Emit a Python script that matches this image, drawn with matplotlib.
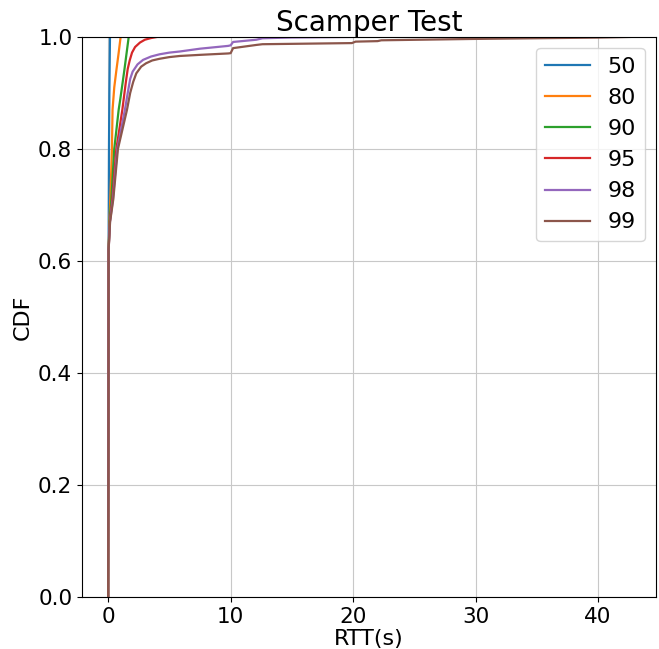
import numpy as np
import matplotlib.pyplot as plt

# percentile cut-offs used for each RTT subset
labels = ["50", "80", "90", "95", "98", "99"]

# RTT (s) and cumulative fraction for each subset
rtt_50 = [0.0, 0.02, 0.04, 0.07, 0.10, 0.15]
cdf_50 = [0.0, 0.30, 0.62, 0.80, 0.90, 1.0]

rtt_80 = [0.0, 0.02, 0.04, 0.10, 0.18, 0.31, 0.36, 0.50, 0.67, 0.85, 1.02]
cdf_80 = [0.0, 0.30, 0.62, 0.67, 0.71, 0.80, 0.87, 0.91, 0.94, 0.97, 1.0]

rtt_90 = [0.0, 0.02, 0.04, 0.12, 0.26, 0.50, 0.86, 1.00, 1.32, 1.50, 1.68]
cdf_90 = [0.0, 0.30, 0.62, 0.67, 0.71, 0.80, 0.87, 0.89, 0.94, 0.97, 1.0]

rtt_95 = [0.0, 0.02, 0.04, 0.14, 0.34, 0.67, 1.16, 1.45, 1.60, 1.76, 1.95,
          2.20, 2.60, 3.00, 3.50, 4.00]
cdf_95 = [0.0, 0.30, 0.62, 0.67, 0.71, 0.80, 0.87, 0.92, 0.943, 0.958, 0.972,
          0.982, 0.990, 0.995, 0.998, 1.0]

rtt_98 = [0.0, 0.02, 0.04, 0.15, 0.39, 0.75, 1.37, 1.60, 1.80, 2.00, 2.40,
          2.85, 3.50, 4.20, 5.00, 5.85, 7.50, 9.80, 10.0, 10.2, 12.1, 12.6,
          15.0, 20.0]
cdf_98 = [0.0, 0.30, 0.62, 0.67, 0.71, 0.80, 0.87, 0.90, 0.925, 0.938, 0.951,
          0.959, 0.965, 0.969, 0.972, 0.974, 0.979, 0.984, 0.985, 0.991, 0.995,
          0.9976, 0.999, 1.0]

rtt_99 = [0.0, 0.02, 0.04, 0.16, 0.42, 0.80, 1.54, 1.80, 2.05, 2.30, 2.70,
          3.10, 3.60, 4.20, 5.00, 5.85, 7.50, 9.80, 10.0, 10.2, 12.1, 12.6,
          19.9, 20.2, 22.0, 22.3, 29.8, 39.9, 42.6]
cdf_99 = [0.0, 0.30, 0.62, 0.67, 0.71, 0.80, 0.87, 0.90, 0.92, 0.935, 0.947,
          0.953, 0.958, 0.961, 0.964, 0.966, 0.968, 0.9705, 0.971, 0.980,
          0.9857, 0.987, 0.989, 0.9916, 0.9925, 0.994, 0.9964, 0.9988, 1.0]

series = [(rtt_50, cdf_50), (rtt_80, cdf_80), (rtt_90, cdf_90),
          (rtt_95, cdf_95), (rtt_98, cdf_98), (rtt_99, cdf_99)]

fig = plt.figure(figsize=(6.59, 6.49), dpi=100)
ax = fig.add_axes([0.1245, 0.0801, 0.871, 0.863])

for (x, y), lab in zip(series, labels):
    ax.plot(x, y, label=lab, linewidth=1.6)

ax.set_ylim(0, 1.0)
ax.set_yticks(np.arange(0, 1.01, 0.2))
ax.grid(True, color="#c8c8c8")
ax.tick_params(labelsize=15.5)
ax.set_xlabel("RTT(s)", fontsize=16, labelpad=1.5)
ax.set_ylabel("CDF", fontsize=16, labelpad=4)
ax.set_title("Scamper Test", fontsize=20, pad=4)
ax.legend(loc="upper right", fontsize=16)

fig.savefig("out.png", dpi=100)
